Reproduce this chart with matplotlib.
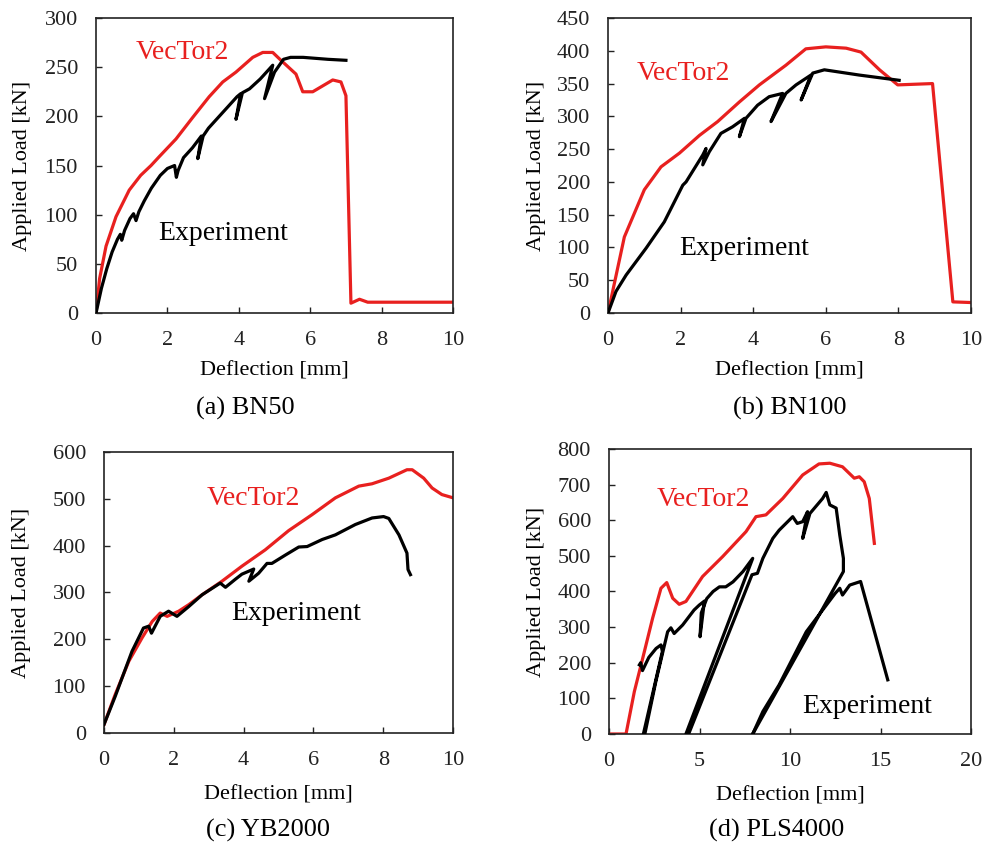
import matplotlib
matplotlib.use('Agg')
import matplotlib.pyplot as plt

plt.rcParams['font.family'] = ['Liberation Serif', 'DejaVu Serif']

# (a) BN50
a_vt_x = [0, 0.1, 0.28, 0.56, 0.93, 1.25, 1.54, 1.77, 2.24, 2.71, 3.17, 3.55, 3.92, 4.39, 4.67, 4.95, 5.18, 5.6, 5.79, 6.07, 6.63, 6.86, 7.0, 7.14, 7.38, 7.61, 8.4, 9.34, 10]
a_vt_y = [0, 35, 68, 98, 125, 140, 150, 159, 177, 199, 220, 235, 245, 260, 265, 265, 257, 243, 225, 225, 237, 235, 221, 10, 14, 11, 11, 11, 11]
a_ex_x = [0, 0.15, 0.3, 0.45, 0.6, 0.68, 0.72, 0.8, 0.95, 1.05, 1.12, 1.2, 1.35, 1.55, 1.8, 2.0, 2.2, 2.25, 2.3, 2.45, 2.7, 2.95, 2.85, 3.0, 3.15, 3.4, 3.7, 3.95, 4.05, 3.92, 4.1, 4.3, 4.6, 4.95, 4.72, 5.0, 5.25, 5.45, 5.8, 6.5, 7.0]
a_ex_y = [0, 25, 45, 62, 75, 80, 74, 84, 96, 101, 94, 103, 114, 127, 140, 147, 150, 138, 145, 158, 168, 180, 157, 180, 188, 198, 210, 220, 223, 197, 224, 228, 238, 252, 218, 245, 258, 260, 260, 258, 257]

# (b) BN100
b_vt_x = [0, 0.45, 1.0, 1.46, 1.97, 2.52, 3.02, 3.62, 4.17, 4.9, 5.45, 6.0, 6.56, 6.97, 7.48, 7.98, 8.94, 9.5, 10]
b_vt_y = [0, 116, 188, 223, 244, 271, 292, 322, 348, 378, 403, 406, 404, 398, 371, 348, 350, 17, 16]
b_ex_x = [0, 0.22, 0.5, 1.05, 1.55, 2.06, 2.15, 2.61, 2.7, 2.61, 2.79, 3.11, 3.43, 3.76, 3.62, 3.8, 4.12, 4.44, 4.81, 4.49, 4.9, 5.18, 5.59, 5.32, 5.64, 5.96, 6.92, 8.02]
b_ex_y = [0, 33, 58, 99, 139, 195, 200, 241, 251, 226, 246, 274, 284, 297, 269, 297, 317, 330, 335, 292, 335, 348, 363, 325, 366, 371, 363, 355]

# (c) YB2000
c_vt_x = [0, 0.32, 0.71, 1.09, 1.38, 1.61, 1.81, 2.14, 2.43, 2.81, 3.38, 3.95, 4.62, 5.29, 5.96, 6.63, 7.3, 7.68, 8.16, 8.68, 8.83, 9.16, 9.4, 9.68, 10]
c_vt_y = [18, 82, 153, 203, 238, 256, 249, 260, 274, 295, 324, 356, 391, 432, 466, 502, 527, 532, 544, 562, 562, 544, 523, 509, 502]
c_ex_x = [0, 0.32, 0.8, 1.13, 1.28, 1.36, 1.61, 1.85, 2.09, 2.43, 2.81, 3.33, 3.48, 3.76, 3.95, 4.29, 4.15, 4.43, 4.67, 4.81, 5.2, 5.58, 5.82, 6.25, 6.63, 7.2, 7.68, 8.01, 8.16, 8.45, 8.68, 8.71, 8.78]
c_ex_y = [18, 78, 174, 224, 228, 213, 249, 260, 249, 270, 295, 320, 311, 328, 339, 350, 324, 341, 362, 362, 380, 397, 398, 413, 423, 445, 459, 462, 458, 423, 384, 349, 338]

# (d) PLS4000
d_vt_x = [0, 0.94, 1.4, 1.86, 2.41, 2.87, 3.19, 3.52, 3.88, 4.25, 5.17, 6.28, 7.57, 8.12, 8.67, 9.6, 10.7, 11.6, 12.2, 12.9, 13.55, 13.83, 14.1, 14.38, 14.66]
d_vt_y = [0, 0, 119, 212, 325, 409, 425, 381, 364, 372, 442, 498, 568, 610, 615, 661, 727, 758, 760, 750, 718, 722, 708, 661, 535]
d_ex_x = [1.68, 1.75, 1.85, 2.2, 2.6, 2.87, 2.95, 1.9, 1.98, 2.6, 3.24, 3.42, 3.6, 4.07, 4.7, 4.99, 5.27, 5.03, 5.1, 5.4, 5.75, 6.1, 6.45, 6.85, 7.4, 7.94, 4.25, 4.4, 7.9, 8.2, 8.5, 9.05, 9.4, 10.15, 10.4, 10.7, 10.97, 10.7, 11.1, 11.8, 12.0, 12.2, 12.55, 12.75, 12.95, 12.95, 7.94, 8.5, 9.4, 10.9, 12.5, 12.75, 12.9, 13.3, 13.9, 15.4]
d_ex_y = [194, 200, 178, 215, 240, 250, 232, 0, 0, 150, 287, 298, 282, 306, 348, 362, 373, 273, 340, 380, 400, 413, 413, 427, 456, 493, 0, 0, 447, 451, 493, 549, 572, 610, 591, 596, 624, 549, 619, 661, 678, 643, 634, 558, 493, 456, 0, 63, 138, 287, 395, 409, 390, 418, 428, 152]

panels = [
    dict(pos=[0.0976, 0.630, 0.3628, 0.3487], vt=(a_vt_x, a_vt_y), ex=(a_ex_x, a_ex_y),
         xlim=(0, 10), xstep=2, ylim=(0, 300), ystep=50, vt_txt=(1.1, 265), ex_txt=(1.74, 81),
         ylc=-0.18, xlc=-0.163, cap='(a) BN50', cap_xy=(245, 408)),
    dict(pos=[0.6179, 0.630, 0.3689, 0.3487], vt=(b_vt_x, b_vt_y), ex=(b_ex_x, b_ex_y),
         xlim=(0, 10), xstep=2, ylim=(0, 450), ystep=50, vt_txt=(0.8, 366), ex_txt=(1.96, 99),
         ylc=-0.172, xlc=-0.163, cap='(b) BN100', cap_xy=(790, 408)),
    dict(pos=[0.1057, 0.1336, 0.3547, 0.3322], vt=(c_vt_x, c_vt_y), ex=(c_ex_x, c_ex_y),
         xlim=(0, 10), xstep=2, ylim=(0, 600), ystep=100, vt_txt=(2.95, 500), ex_txt=(3.64, 256),
         ylc=-0.208, xlc=-0.188, cap='(c) YB2000', cap_xy=(268, 830)),
    dict(pos=[0.6189, 0.1324, 0.3679, 0.3369], vt=(d_vt_x, d_vt_y), ex=(d_ex_x, d_ex_y),
         xlim=(0, 20), xstep=5, ylim=(0, 800), ystep=100, vt_txt=(2.65, 657), ex_txt=(10.7, 76),
         ylc=-0.175, xlc=-0.183, cap='(d) PLS4000', cap_xy=(777, 830)),
]

fig = plt.figure(figsize=(9.84, 8.46), dpi=100)

for p in panels:
    ax = fig.add_axes(p['pos'])
    ax.plot(p['vt'][0], p['vt'][1], color='#e8201f', lw=2.3, zorder=2)
    ax.plot(p['ex'][0], p['ex'][1], color='black', lw=2.3, zorder=3)
    ax.set_xlim(*p['xlim'])
    ax.set_ylim(*p['ylim'])
    ax.set_xticks(range(p['xlim'][0], p['xlim'][1] + 1, p['xstep']))
    ax.set_yticks(range(p['ylim'][0], p['ylim'][1] + 1, p['ystep']))
    ax.tick_params(direction='in', length=4, width=1, labelsize=16, pad=13, colors='#222222')
    for s in ax.spines.values():
        s.set_linewidth(1.2)
        s.set_color('#222222')
    ax.set_xlabel('Deflection [mm]', fontsize=16)
    ax.set_ylabel('Applied Load [kN]', fontsize=16)
    ax.xaxis.set_label_coords(0.5, p['xlc'])
    ax.yaxis.set_label_coords(p['ylc'], 0.5)
    ax.text(p['vt_txt'][0], p['vt_txt'][1], 'VecTor2', color='#e8201f', fontsize=20, va='center')
    ax.text(p['ex_txt'][0], p['ex_txt'][1], 'Experiment', color='black', fontsize=20, va='center')
    fig.text(p['cap_xy'][0] / 984, 1 - p['cap_xy'][1] / 846, p['cap'], fontsize=19,
             ha='center', va='center')

fig.savefig('out.png', dpi=100)
